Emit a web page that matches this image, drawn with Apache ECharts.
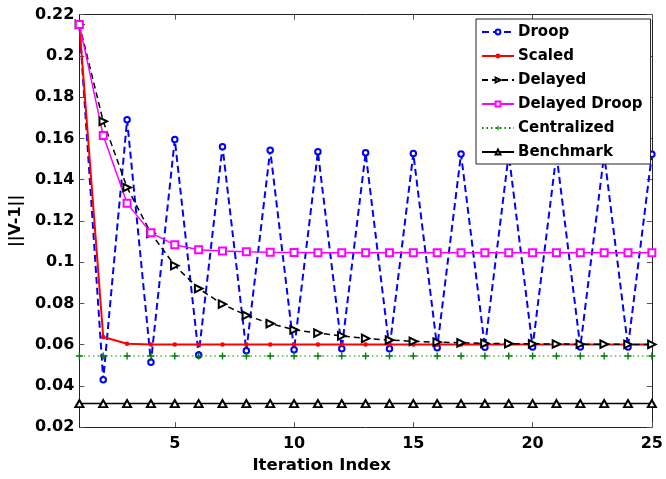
<!DOCTYPE html>
<html>
<head>
<meta charset="utf-8">
<script src="https://cdn.jsdelivr.net/npm/echarts@6/dist/echarts.min.js"></script>
<style>
  html, body { margin: 0; padding: 0; background: #fff; }
  #chart { width: 666px; height: 479px; }
</style>
</head>
<body>
<div id="chart"></div>
<script>
// Iteration indices 1..25
const iterations = [1, 2, 3, 4, 5, 6, 7, 8, 9, 10, 11, 12, 13, 14, 15, 16, 17, 18, 19, 20, 21, 22, 23, 24, 25];

// ||V-1|| for each control scheme
const droop = [0.2153, 0.043, 0.169, 0.0515, 0.1595, 0.055, 0.156, 0.057, 0.1543, 0.0575, 0.1535, 0.058, 0.153,
  0.058, 0.1527, 0.0585, 0.1525, 0.0587, 0.1524, 0.0588, 0.1524, 0.0588, 0.1523, 0.0589, 0.1523];
const scaled = [0.2153, 0.0637, 0.0604, 0.0601, 0.06, 0.06, 0.06, 0.06, 0.06, 0.06, 0.06, 0.06, 0.06,
  0.06, 0.06, 0.06, 0.06, 0.06, 0.06, 0.06, 0.06, 0.06, 0.06, 0.06, 0.06];
const delayed = [0.2153, 0.1683, 0.1362, 0.114, 0.0983, 0.0872, 0.0796, 0.0742, 0.0702, 0.0672, 0.0656, 0.0642, 0.063,
  0.0622, 0.0616, 0.0612, 0.0609, 0.0606, 0.0605, 0.0604, 0.0603, 0.0602, 0.0602, 0.0601, 0.0601];
const delayedDroop = [0.2153, 0.1614, 0.1285, 0.1142, 0.1084, 0.106, 0.1054, 0.105, 0.1048, 0.1047, 0.1046, 0.1046, 0.1046,
  0.1046, 0.1046, 0.1046, 0.1046, 0.1046, 0.1046, 0.1046, 0.1046, 0.1046, 0.1046, 0.1046, 0.1046];
const centralized = [0.0545, 0.0545, 0.0545, 0.0545, 0.0545, 0.0545, 0.0545, 0.0545, 0.0545, 0.0545, 0.0545, 0.0545, 0.0545,
  0.0545, 0.0545, 0.0545, 0.0545, 0.0545, 0.0545, 0.0545, 0.0545, 0.0545, 0.0545, 0.0545, 0.0545];
const benchmark = [0.0314, 0.0314, 0.0314, 0.0314, 0.0314, 0.0314, 0.0314, 0.0314, 0.0314, 0.0314, 0.0314, 0.0314, 0.0314,
  0.0314, 0.0314, 0.0314, 0.0314, 0.0314, 0.0314, 0.0314, 0.0314, 0.0314, 0.0314, 0.0314, 0.0314];

const xTicks = [5, 10, 15, 20, 25];
const seriesNames = ['Droop', 'Scaled', 'Delayed', 'Delayed Droop', 'Centralized', 'Benchmark'];

const FONT = 'DejaVu Sans';
const PLUS = 'path://M4,0 L6,0 L6,4 L10,4 L10,6 L6,6 L6,10 L4,10 L4,6 L0,6 L0,4 L4,4 Z';

const pairs = ys => iterations.map((x, i) => [x, ys[i]]);

const chart = echarts.init(document.getElementById('chart'), null, { renderer: 'canvas' });

const axisLine = { show: true, lineStyle: { color: '#222', width: 1 } };
const tickStyle = { color: '#555', width: 1 };

chart.setOption({
  animation: false,
  backgroundColor: '#fff',
  grid: { left: 73, right: 8.5, top: 14.7, bottom: 44.7, containLabel: false },
  xAxis: [{
    type: 'value', min: 1, max: 25, position: 'bottom',
    axisLine: axisLine,
    axisTick: { show: true, inside: true, length: 5, lineStyle: tickStyle, customValues: xTicks },
    axisLabel: { customValues: xTicks, color: '#000', fontFamily: FONT, fontWeight: 'bold', fontSize: 16, margin: 9 },
    splitLine: { show: false },
    name: 'Iteration Index', nameLocation: 'middle', nameGap: 22,
    nameTextStyle: { color: '#000', fontFamily: FONT, fontWeight: 'bold', fontSize: 16.5, padding: [0, 88, 0, 0] }
  }, {
    type: 'value', min: 1, max: 25, position: 'top',
    axisLine: axisLine,
    axisTick: { show: true, inside: true, length: 5, lineStyle: tickStyle, customValues: xTicks },
    axisLabel: { show: false },
    splitLine: { show: false }
  }],
  yAxis: [{
    type: 'value', min: 0.02, max: 0.22, interval: 0.02, position: 'left',
    axisLine: axisLine,
    axisTick: { show: true, inside: true, length: 5, lineStyle: tickStyle },
    axisLabel: {
      color: '#000', fontFamily: FONT, fontWeight: 'bold', fontSize: 16, margin: 5,
      formatter: v => String(parseFloat(v.toFixed(2)))
    },
    splitLine: { show: false },
    name: '||V-1||', nameLocation: 'middle', nameGap: 52,
    nameTextStyle: { color: '#000', fontFamily: FONT, fontWeight: 'bold', fontSize: 16 }
  }, {
    type: 'value', min: 0.02, max: 0.22, interval: 0.02, position: 'right',
    axisLine: axisLine,
    axisTick: { show: true, inside: true, length: 5, lineStyle: tickStyle },
    axisLabel: { show: false },
    splitLine: { show: false }
  }],
  legend: {
    orient: 'vertical', left: 476, top: 19,
    data: seriesNames,
    backgroundColor: '#fff', borderColor: '#222', borderWidth: 1,
    padding: [4, 8, 3, 5],
    itemWidth: 32, itemHeight: 6, itemGap: 6,
    textStyle: { color: '#000', fontFamily: FONT, fontWeight: 'bold', fontSize: 15, lineHeight: 18, padding: [0, 0, 0, -1] }
  },
  series: [
    {
      name: 'Droop', type: 'line', data: pairs(droop),
      symbol: 'emptyCircle', symbolSize: 5.5,
      lineStyle: { color: '#0000ff', width: 2, type: [7, 4] },
      itemStyle: { color: '#0000ff', borderWidth: 1.3 }
    },
    {
      name: 'Scaled', type: 'line', data: pairs(scaled),
      symbol: 'circle', symbolSize: 4.5,
      lineStyle: { color: '#ff0000', width: 2 },
      itemStyle: { color: '#ff0000' }
    },
    {
      name: 'Delayed', type: 'line', data: pairs(delayed),
      symbol: 'emptyTriangle', symbolSize: 7.5, symbolRotate: -90,
      lineStyle: { color: '#000', width: 1.5, type: [6, 4] },
      itemStyle: { color: '#000', borderWidth: 1.2 }
    },
    {
      name: 'Delayed Droop', type: 'line', data: pairs(delayedDroop),
      symbol: 'emptyRect', symbolSize: 7,
      lineStyle: { color: '#ff00ff', width: 1.5 },
      itemStyle: { color: '#ff00ff', borderWidth: 1.2 }
    },
    {
      name: 'Centralized', type: 'line', data: pairs(centralized),
      symbol: PLUS, symbolSize: 7,
      lineStyle: { color: '#008000', width: 1, type: [1.5, 3] },
      itemStyle: { color: '#008000' }
    },
    {
      name: 'Benchmark', type: 'line', data: pairs(benchmark),
      symbol: 'emptyTriangle', symbolSize: [8, 7],
      lineStyle: { color: '#000', width: 1.5 },
      itemStyle: { color: '#000', borderWidth: 1.2 }
    }
  ]
});
</script>
</body>
</html>
